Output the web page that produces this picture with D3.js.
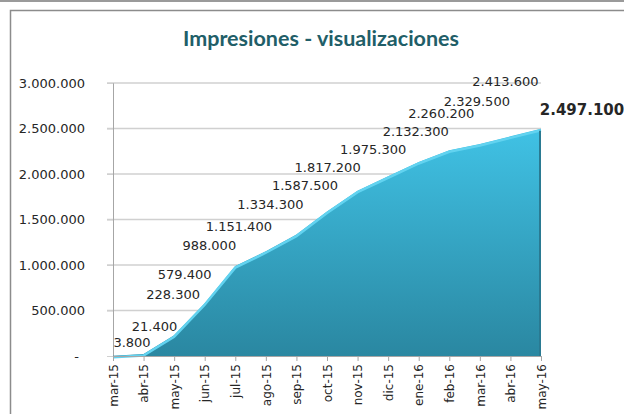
<!DOCTYPE html>
<html>
<head>
<meta charset="utf-8">
<script src="https://cdn.jsdelivr.net/npm/d3@7"></script>
<style>
    body { margin: 0; background: #fff; }
    #chart-area { width: 624px; height: 414px; }
</style>
</head>
<body>
<div id="chart-area"></div>
<script>

// months on the x axis
let months = ["mar-15", "abr-15", "may-15", "jun-15", "jul-15", "ago-15", "sep-15", "oct-15",
    "nov-15", "dic-15", "ene-16", "feb-16", "mar-16", "abr-16", "may-16"];

// cumulative impressions
let impressions = [3800, 21400, 228300, 579400, 988000, 1151400, 1334300, 1587500,
    1817200, 1975300, 2132300, 2260200, 2329500, 2413600, 2497100];

// y axis ticks
let yTicks = [0, 500000, 1000000, 1500000, 2000000, 2500000, 3000000];

// label nudges (px) from each point, labels were dragged around in the original
let labelNudge = [[19, -9], [11, -23], [-1, -36], [-20, -24], [-26, -16], [-27, -20], [-26, -26],
    [-22, -22], [-30, -19], [-15, -22], [-3, -26], [-8, -32], [-3, -38], [-5, -50], [41, -14]];


class AreaVis {

    constructor(parentElement) {
        this.parentElement = parentElement;
        this.initVis();
    }

    initVis() {
        let vis = this;

        vis.margin = { top: 83, right: 83, bottom: 58, left: 113 };
        vis.width = 624 - vis.margin.left - vis.margin.right;
        vis.height = 414 - vis.margin.top - vis.margin.bottom;

        vis.root = d3.select("#" + vis.parentElement).append("svg")
            .attr("width", 624)
            .attr("height", 414);

        // frame lines
        vis.root.append("rect")
            .attr("x", 0).attr("y", 0)
            .attr("width", 624).attr("height", 2)
            .style("fill", "#9a9a9a");

        vis.root.append("rect")
            .attr("x", 10.5).attr("y", 10.5)
            .attr("width", 640).attr("height", 420)
            .style("fill", "none")
            .style("stroke", "#8c8c8c")
            .style("stroke-width", 1.5);

        // title
        vis.root.append("text")
            .attr("x", 321)
            .attr("y", 46)
            .attr("text-anchor", "middle")
            .text("Impresiones - visualizaciones")
            .style("fill", "#215e68")
            .style("font-family", "Lato")
            .style("font-size", "21.5px")
            .style("font-weight", "bold");

        vis.svg = vis.root.append("g")
            .attr("transform", `translate(${vis.margin.left}, ${vis.margin.top})`);

        vis.x = d3.scalePoint()
            .domain(months)
            .range([0, vis.width]);

        vis.y = d3.scaleLinear()
            .domain([0, 3000000])
            .range([vis.height, 0]);

        // gradient for the area
        let grad = vis.root.append("defs").append("linearGradient")
            .attr("id", "areaGrad")
            .attr("x1", 0).attr("y1", 0).attr("x2", 0).attr("y2", 1);
        grad.append("stop").attr("offset", "0%").attr("stop-color", "#40c2e5");
        grad.append("stop").attr("offset", "100%").attr("stop-color", "#2a87a1");

        vis.wrangleData();
    }

    wrangleData() {
        let vis = this;

        vis.displayData = months.map((m, i) => ({ month: m, value: impressions[i], nudge: labelNudge[i] }));

        vis.updateVis();
    }

    updateVis() {
        let vis = this;

        // gridlines
        vis.svg.append("g")
            .attr("class", "grid")
            .selectAll("line")
            .data(yTicks.filter(d => d > 0))
            .enter()
            .append("line")
            .attr("x1", -6)
            .attr("x2", vis.width)
            .attr("y1", d => vis.y(d))
            .attr("y2", d => vis.y(d))
            .style("stroke", "#d0d0d0")
            .style("stroke-width", 1.5);

        // y axis
        let yAxis = d3.axisLeft(vis.y)
            .tickValues(yTicks)
            .tickSize(6)
            .tickPadding(22)
            .tickFormat(d => d === 0 ? "-" : d3.format(",")(d).replace(/,/g, "."));

        let yg = vis.svg.append("g")
            .attr("class", "y-axis")
            .call(yAxis);
        yg.select(".domain").style("stroke", "#a6a6a6");
        yg.selectAll(".tick line").style("stroke", "#d0d0d0");
        yg.selectAll(".tick text")
            .style("fill", "#262626")
            .style("font-family", "DejaVu Sans")
            .style("font-size", "13px");
        yg.selectAll(".tick")
            .filter(d => d === 0)
            .select("text")
            .attr("dx", -6);

        // area
        let area = d3.area()
            .x(d => vis.x(d.month))
            .y0(vis.height)
            .y1(d => vis.y(d.value));

        let line = d3.line()
            .x(d => vis.x(d.month))
            .y(d => vis.y(d.value));

        vis.svg.append("path")
            .datum(vis.displayData)
            .attr("d", area)
            .style("fill", "url(#areaGrad)");

        vis.svg.append("path")
            .datum(vis.displayData)
            .attr("d", line)
            .attr("transform", "translate(0, 1.5)")
            .style("fill", "none")
            .style("stroke", "#62d3f0")
            .style("stroke-width", 2.5);

        // shaded right edge
        let last = vis.displayData[vis.displayData.length - 1];
        vis.svg.append("line")
            .attr("x1", vis.x(last.month) - 1)
            .attr("x2", vis.x(last.month) - 1)
            .attr("y1", vis.y(last.value) + 2)
            .attr("y2", vis.height)
            .style("stroke", "#2a7a92")
            .style("stroke-width", 2);

        // x axis
        let xAxis = d3.axisBottom(vis.x)
            .tickSize(5)
            .tickPadding(4);

        let xg = vis.svg.append("g")
            .attr("class", "x-axis")
            .attr("transform", `translate(0, ${vis.height})`)
            .call(xAxis);
        xg.select(".domain").style("stroke", "#a6a6a6");
        xg.selectAll(".tick line").style("stroke", "#a6a6a6");
        xg.selectAll(".tick text")
            .attr("transform", "rotate(-90)")
            .attr("x", -8)
            .attr("y", 0)
            .attr("dy", "0.35em")
            .attr("text-anchor", "end")
            .style("fill", "#262626")
            .style("font-family", "DejaVu Sans")
            .style("font-size", "12px");

        // data labels
        vis.svg.append("g")
            .attr("class", "labels")
            .selectAll("text")
            .data(vis.displayData)
            .enter()
            .append("text")
            .attr("x", d => vis.x(d.month) + d.nudge[0])
            .attr("y", d => vis.y(d.value) + d.nudge[1])
            .attr("text-anchor", "middle")
            .text(d => d3.format(",")(d.value).replace(/,/g, "."))
            .style("fill", "#262626")
            .style("font-family", "DejaVu Sans")
            .style("font-size", (d, i) => i === vis.displayData.length - 1 ? "15px" : "13px")
            .style("font-weight", (d, i) => i === vis.displayData.length - 1 ? "bold" : "normal");
    }
}

new AreaVis("chart-area");

</script>
</body>
</html>
